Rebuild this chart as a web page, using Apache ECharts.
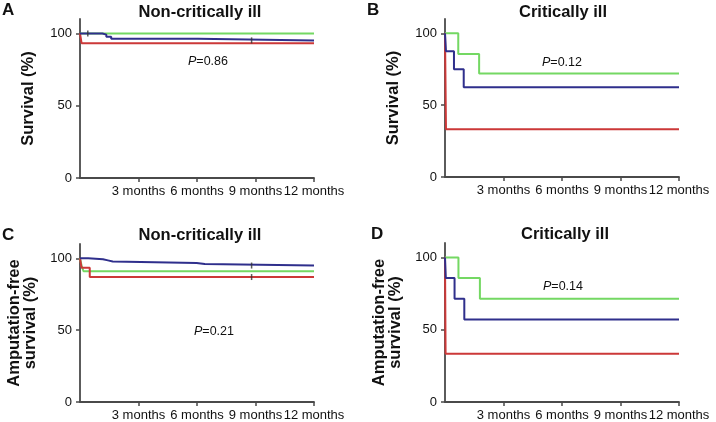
<!DOCTYPE html>
<html>
<head>
<meta charset="utf-8">
<script src="https://cdn.jsdelivr.net/npm/echarts@6/dist/echarts.min.js"></script>
<style>
html,body{margin:0;padding:0;background:#fff;}
#c{width:716px;height:422px;}
</style>
</head>
<body>
<div id="c"></div>
<script>
// Tick values and labels
const xTickValues = [3, 6, 9, 12];
const xTickLabels = ['3 months', '6 months', '9 months', '12 months'];
const yTickValues = [0, 50, 100];

// Panel titles / letters / p-values
const panelLetters = ['A', 'B', 'C', 'D'];
const panelTitles = ['Non-critically ill', 'Critically ill', 'Non-critically ill', 'Critically ill'];
const pValues = ['0.86', '0.12', '0.21', '0.14'];
const yNames = ['Survival (%)', 'Survival (%)', 'Amputation-free\nsurvival (%)', 'Amputation-free\nsurvival (%)'];

// Kaplan-Meier step data: [month, survival %]
const A_green = [[0, 100], [12, 100]];
const A_blue = [[0, 100], [1.15, 99.2], [1.35, 97.8], [1.6, 96.3], [6.05, 95.2], [12, 95.2]];
const A_red = [[0, 100], [0.08, 93.3], [12, 93.3]];
const A_censor = [[0.4, 100], [8.8, 95.2]];

const B_green = [[0, 100], [0.68, 85.7], [1.75, 72], [12, 72]];
const B_blue = [[0, 100], [0.05, 87.5], [0.46, 75], [0.96, 62.5], [12, 62.5]];
const B_red = [[0, 100], [0.05, 33.3], [12, 33.3]];
const B_censor = [];

const C_green = [[0, 100], [0.08, 95], [0.18, 91], [12, 91]];
const C_blue = [[0, 100], [0.42, 99.4], [1.18, 98.6], [1.43, 97.8], [1.68, 96.8], [5.98, 96], [6.4, 95], [12, 95]];
const C_red = [[0, 100], [0.08, 93.5], [0.5, 87], [12, 87]];
const C_censor = [[8.8, 95], [8.8, 87]];

const D_green = [[0, 100], [0.69, 85.7], [1.79, 71.4], [12, 71.4]];
const D_blue = [[0, 100], [0.04, 85.7], [0.49, 71.4], [0.99, 57.1], [12, 57.1]];
const D_red = [[0, 100], [0.03, 33.3], [12, 33.3]];
const D_censor = [];

const panelData = [
  {green: A_green, blue: A_blue, red: A_red, censor: A_censor},
  {green: B_green, blue: B_blue, red: B_red, censor: B_censor},
  {green: C_green, blue: C_blue, red: C_red, censor: C_censor},
  {green: D_green, blue: D_blue, red: D_red, censor: D_censor}
];

// layout
const grids = [
  {left: 80, top: 19, width: 234, height: 159},
  {left: 445, top: 19, width: 234, height: 158},
  {left: 80, top: 244, width: 234, height: 158},
  {left: 445, top: 243, width: 234, height: 160}
];
const titlePos = [[200, 4], [563, 4], [200, 227], [565, 226]];
const letterPos = [[2, 2], [367, 2], [2, 227], [371, 226]];
const pPos = [[208, 55], [562, 56.5], [214, 325], [563, 280]];

const FONT = '"Liberation Sans", Arial, sans-serif';
const axisColor = '#4a4a4a';
const colGreen = '#74d863';
const colBlue = '#2f2f8c';
const colRed = '#cc3838';

const option = {
  backgroundColor: '#fff',
  animation: false,
  textStyle: {fontFamily: FONT},
  grid: grids.map(g => Object.assign({containLabel: false}, g)),
  title: [],
  xAxis: [],
  yAxis: [],
  series: []
};

for (let i = 0; i < 4; i++) {
  option.title.push({
    text: panelTitles[i], left: titlePos[i][0], top: titlePos[i][1], textAlign: 'center', padding: 0,
    textStyle: {fontFamily: FONT, fontSize: 16.5, fontWeight: 'bold', color: '#111'}
  });
  option.title.push({
    text: panelLetters[i], left: letterPos[i][0], top: letterPos[i][1], padding: 0,
    textStyle: {fontFamily: FONT, fontSize: 17, fontWeight: 'bold', color: '#111'}
  });
  option.title.push({
    text: '{i|P}{n|=' + pValues[i] + '}', left: pPos[i][0], top: pPos[i][1], textAlign: 'center', padding: 0,
    textStyle: {
      fontFamily: FONT, fontSize: 12.5, fontWeight: 'normal', color: '#111',
      rich: {
        i: {fontFamily: FONT, fontSize: 12.5, fontStyle: 'italic', fontWeight: 'normal', color: '#111'},
        n: {fontFamily: FONT, fontSize: 12.5, fontWeight: 'normal', color: '#111'}
      }
    }
  });

  option.xAxis.push({
    type: 'value', gridIndex: i, min: 0, max: 12, interval: 3,
    axisLine: {show: true, onZero: false, lineStyle: {color: axisColor, width: 1.8}},
    axisTick: {show: true, length: 4, customValues: xTickValues, lineStyle: {color: axisColor, width: 1.5}},
    axisLabel: {
      customValues: xTickValues, margin: 7, fontSize: 13, color: '#111', fontFamily: FONT,
      formatter: v => { const k = xTickValues.indexOf(v); return k >= 0 ? xTickLabels[k] : ''; }
    },
    splitLine: {show: false}
  });
  option.yAxis.push({
    type: 'value', gridIndex: i, min: 0, max: 110, interval: 50,
    name: yNames[i], nameLocation: 'middle', nameRotate: 90,
    nameGap: i < 2 ? 44 : 42,
    nameTextStyle: {fontFamily: FONT, fontSize: 16.5, fontWeight: 'bold', color: '#111', lineHeight: 16},
    axisLine: {show: true, onZero: false, lineStyle: {color: axisColor, width: 1.8}},
    axisTick: {show: true, length: 4, customValues: yTickValues, lineStyle: {color: axisColor, width: 1.5}},
    axisLabel: {customValues: yTickValues, margin: 8, fontSize: 13, color: '#111', fontFamily: FONT},
    splitLine: {show: false}
  });

  const d = panelData[i];
  const mk = (data, color, w) => ({
    type: 'line', xAxisIndex: i, yAxisIndex: i, step: 'end', data: data,
    showSymbol: false, symbol: 'none', lineStyle: {color: color, width: w}, z: 3
  });
  option.series.push(mk(d.green, colGreen, 2));
  option.series.push(mk(d.red, colRed, 2));
  option.series.push(mk(d.blue, colBlue, 2));
  if (d.censor.length) {
    option.series.push({
      type: 'scatter', xAxisIndex: i, yAxisIndex: i, data: d.censor,
      symbol: 'rect', symbolSize: [1.5, 6], itemStyle: {color: '#333'}, z: 4
    });
  }
}

const chart = echarts.init(document.getElementById('c'), null, {renderer: 'canvas'});
chart.setOption(option);
</script>
</body>
</html>
